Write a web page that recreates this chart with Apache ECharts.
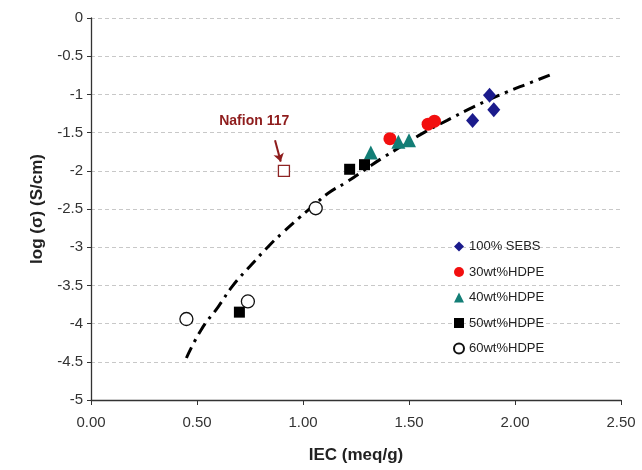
<!DOCTYPE html>
<html>
<head>
<meta charset="utf-8">
<script src="https://cdn.jsdelivr.net/npm/echarts@6/dist/echarts.min.js"></script>
<style>html,body{margin:0;padding:0;background:#fff}#c{width:642px;height:470px}</style>
</head>
<body>
<div id="c"></div>
<script>
// Data (x = IEC meq/g, y = log sigma)
var sebs100 = [[1.88, -1.01], [1.90, -1.20], [1.80, -1.34]];
var hdpe30 = [[1.41, -1.58], [1.59, -1.39], [1.62, -1.35]];
var hdpe40 = [[1.32, -1.76], [1.45, -1.62], [1.50, -1.60]];
var hdpe50 = [[1.22, -1.98], [1.29, -1.92], [0.70, -3.85]];
var hdpe60 = [[1.06, -2.49], [0.45, -3.94], [0.74, -3.71]];
var nafion = [[0.91, -2.0]];
var fitCurve = [[0.45, -4.45], [0.52, -4.08], [0.60, -3.78], [0.67, -3.50], [0.75, -3.25],
  [0.84, -2.98], [0.90, -2.82], [0.98, -2.62], [1.06, -2.43], [1.12, -2.29], [1.21, -2.14],
  [1.30, -1.97], [1.37, -1.84], [1.47, -1.67], [1.57, -1.50], [1.68, -1.34], [1.80, -1.17],
  [1.96, -0.97], [2.07, -0.85], [2.17, -0.74]];
var legendNames = ['100% SEBS', '30wt%HDPE', '40wt%HDPE', '50wt%HDPE', '60wt%HDPE'];
var nafionLabel = 'Nafion 117';
var nafionLabelPos = [0.77, -1.35];
var nafionArrow = [[0.868, -1.60], [0.895, -1.88]];

var FONT = 'Liberation Sans, Arial, sans-serif';
var chart = echarts.init(document.getElementById('c'), null, {renderer: 'canvas'});
chart.setOption({
  animation: false,
  backgroundColor: '#fff',
  grid: {left: 91, right: 21, top: 18, bottom: 70},
  xAxis: {
    type: 'value', min: 0, max: 2.5, interval: 0.5,
    name: 'IEC (meq/g)', nameLocation: 'middle', nameGap: 47,
    nameTextStyle: {fontFamily: FONT, fontSize: 17, fontWeight: 'bold', color: '#222'},
    axisLine: {show: true, onZero: false, lineStyle: {color: '#333', width: 1.3}},
    axisTick: {show: true, length: 5, lineStyle: {color: '#333'}},
    axisLabel: {fontFamily: FONT, fontSize: 15, color: '#333', margin: 15,
      formatter: function (v) { return v.toFixed(2); }},
    splitLine: {show: false}
  },
  yAxis: {
    type: 'value', min: -5, max: 0, interval: 0.5,
    name: 'log (σ) (S/cm)', nameLocation: 'middle', nameGap: 36, nameRotate: 90,
    nameTextStyle: {fontFamily: FONT, fontSize: 17, fontWeight: 'bold', color: '#222'},
    axisLine: {show: true, onZero: false, lineStyle: {color: '#333', width: 1.3}},
    axisTick: {show: true, length: 4, lineStyle: {color: '#333'}},
    axisLabel: {fontFamily: FONT, fontSize: 15, color: '#333', margin: 8},
    splitLine: {show: true, lineStyle: {color: '#c8c8c8', type: [4, 3], width: 1}}
  },
  legend: {
    data: legendNames, orient: 'vertical', left: 448, top: 235,
    itemWidth: 10, itemHeight: 10, itemGap: 12.5,
    textStyle: {fontFamily: FONT, fontSize: 13, color: '#222'}
  },
  series: [
    {type: 'line', name: 'fit', data: fitCurve, symbol: 'none', smooth: true, silent: true,
      lineStyle: {color: '#000', width: 3, type: [12, 6, 3, 6], cap: 'butt'}, z: 1},
    {type: 'scatter', name: legendNames[0], data: sebs100, symbol: 'diamond', symbolSize: [13, 15],
      itemStyle: {color: '#1b1b8c', opacity: 1}, z: 3},
    {type: 'scatter', name: legendNames[1], data: hdpe30, symbol: 'circle', symbolSize: 13,
      itemStyle: {color: '#f20f0f', opacity: 1}, z: 3},
    {type: 'scatter', name: legendNames[2], data: hdpe40, symbol: 'triangle', symbolSize: 14,
      itemStyle: {color: '#137e76', opacity: 1}, z: 3},
    {type: 'scatter', name: legendNames[3], data: hdpe50, symbol: 'rect', symbolSize: 11,
      itemStyle: {color: '#000', opacity: 1}, z: 3},
    {type: 'scatter', name: legendNames[4], data: hdpe60, symbol: 'circle', symbolSize: 13,
      itemStyle: {color: '#fff', borderColor: '#111', borderWidth: 1.3, opacity: 1}, z: 3},
    {type: 'scatter', name: 'Nafion', data: nafion, symbol: 'rect', symbolSize: 11,
      itemStyle: {color: '#fff', borderColor: '#8e2424', borderWidth: 1.3, opacity: 1}, z: 3,
      markLine: {silent: true, symbol: ['none', 'arrow'], symbolSize: 8, animation: false,
        label: {show: false},
        lineStyle: {color: '#8e1c1c', width: 2, type: 'solid'},
        data: [[{coord: nafionArrow[0]}, {coord: nafionArrow[1]}]]},
      markPoint: {silent: true, symbol: 'circle', symbolSize: 1, animation: false,
        itemStyle: {color: 'rgba(0,0,0,0)'},
        label: {show: true, position: 'inside', formatter: nafionLabel,
          fontFamily: FONT, fontSize: 14, fontWeight: 'bold', color: '#8e1c1c'},
        data: [{coord: nafionLabelPos}]}
    }
  ]
});
</script>
</body>
</html>
